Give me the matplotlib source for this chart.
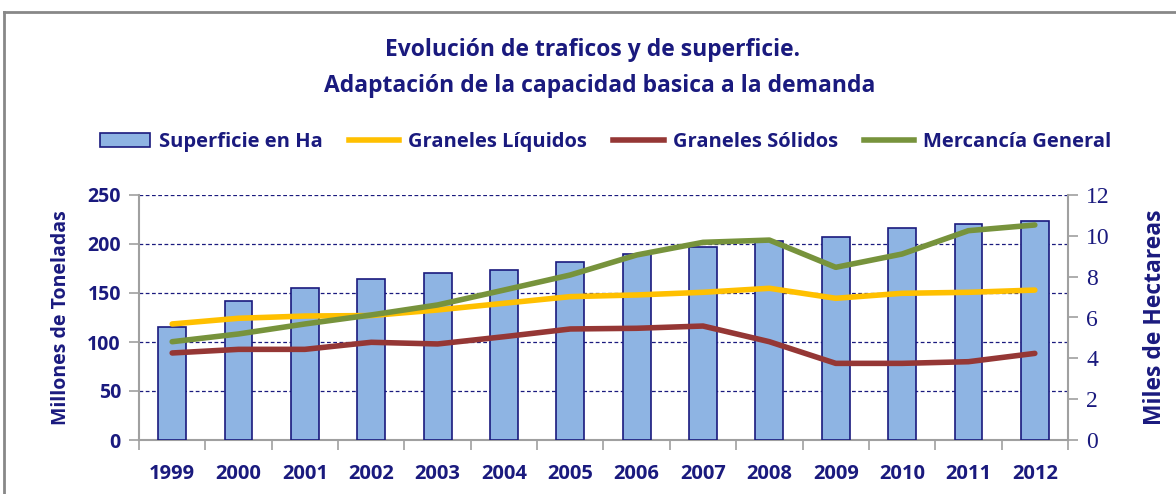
import numpy as np
import matplotlib.pyplot as plt
from matplotlib.lines import Line2D
from matplotlib.patches import Patch

plt.rcParams["font.family"] = ["Open Sans", "DejaVu Sans"]

years = ["1999", "2000", "2001", "2002", "2003", "2004", "2005",
         "2006", "2007", "2008", "2009", "2010", "2011", "2012"]
superficie = [5.53, 6.81, 7.44, 7.89, 8.18, 8.33, 8.72,
              9.11, 9.44, 9.75, 9.93, 10.37, 10.58, 10.74]
liquidos = [118.4, 124.2, 126.5, 127.0, 132.7, 139.5, 146.3,
            148.0, 150.7, 154.8, 144.6, 149.7, 150.7, 153.0]
solidos = [88.8, 92.5, 92.5, 99.7, 98.0, 105.4, 113.3,
           114.0, 116.3, 100.3, 78.2, 78.2, 79.9, 88.4]
mercancia = [100.3, 108.2, 118.4, 127.6, 137.8, 153.0, 168.4,
             188.8, 201.7, 204.0, 176.2, 189.8, 213.6, 219.4]

navy = "#1a1a7e"
gray = "#a0a0a0"
c_bar = "#8eb4e3"
c_liq = "#ffc000"
c_sol = "#953735"
c_mer = "#77933c"

fig = plt.figure(figsize=(11.76, 4.94), dpi=100)
pos = [139 / 1176, 1 - 440 / 494, (1068 - 139) / 1176, (440 - 195) / 494]

# bottom layer: tonnes axis + grid
ax = fig.add_axes(pos)
ax.set_zorder(0)
x = np.arange(len(years))
ax.set_xlim(-0.5, len(years) - 0.5)
ax.set_ylim(0, 250)
ax.set_yticks(range(0, 251, 50))
ax.grid(axis="y", linestyle=(0, (3, 2)), color=navy, linewidth=0.9)
ax.set_xticks(x)
ax.set_xticklabels(years, fontsize=14.5, fontweight="bold", color=navy)
ax.set_xticks(np.arange(-0.5, len(years), 1), minor=True)
ax.tick_params(axis="x", which="major", length=0, pad=17)
ax.tick_params(axis="x", which="minor", length=7, color=gray, width=1.2)
ax.tick_params(axis="y", length=7, color=gray, width=1.2, labelsize=14,
               labelcolor=navy, pad=6)
for t in ax.get_yticklabels():
    t.set_fontweight("bold")
ax.spines["top"].set_visible(False)
ax.spines["right"].set_visible(False)
for s in ["left", "bottom"]:
    ax.spines[s].set_color(gray)
    ax.spines[s].set_linewidth(1.5)
ax.set_ylabel("Millones de Toneladas", fontsize=14, fontweight="bold",
              color=navy, labelpad=12)

# middle layer: bars on hectares axis
ax2 = ax.twinx()
ax2.set_zorder(1)
ax2.patch.set_visible(False)
ax2.bar(x, superficie, width=0.42, color=c_bar, edgecolor=navy, linewidth=1.2)
ax2.set_ylim(0, 12)
ax2.set_yticks(range(0, 13, 2))
ax2.tick_params(axis="y", length=7, color=gray, width=1.2, pad=6)
for t in ax2.get_yticklabels():
    t.set_fontfamily("Liberation Serif")
    t.set_fontsize(17)
    t.set_color(navy)
for s in ["top", "left", "bottom"]:
    ax2.spines[s].set_visible(False)
ax2.spines["right"].set_color(gray)
ax2.spines["right"].set_linewidth(1.5)
ax2.set_ylabel("Miles de Hectareas", fontsize=16.5, fontweight="bold",
               color=navy, labelpad=24)

# top layer: lines
ax3 = fig.add_axes(pos, sharex=ax, sharey=ax)
ax3.set_zorder(2)
ax3.patch.set_visible(False)
ax3.axis("off")
ax3.plot(x, liquidos, color=c_liq, linewidth=4, solid_capstyle="round")
ax3.plot(x, solidos, color=c_sol, linewidth=4, solid_capstyle="round")
ax3.plot(x, mercancia, color=c_mer, linewidth=4, solid_capstyle="round")

fig.text(0.504, 1 - 50 / 494, "Evolución de traficos y de superficie.", ha="center",
         va="center", fontsize=16.5, fontweight="bold", color=navy)
fig.text(0.51, 1 - 86 / 494, "Adaptación de la capacidad basica a la demanda",
         ha="center", va="center", fontsize=16.5, fontweight="bold", color=navy)

handles = [
    Patch(facecolor=c_bar, edgecolor=navy, linewidth=1.2),
    Line2D([], [], color=c_liq, linewidth=4),
    Line2D([], [], color=c_sol, linewidth=4),
    Line2D([], [], color=c_mer, linewidth=4),
]
labels = ["Superficie en Ha", "Graneles Líquidos", "Graneles Sólidos",
          "Mercancía General"]
fig.legend(handles, labels, loc="center", bbox_to_anchor=(0.515, 1 - 142 / 494),
           ncol=4, frameon=False, handlelength=2.5, handleheight=0.7,
           columnspacing=1.3, handletextpad=0.45,
           prop={"size": 14.5, "weight": "bold"}, labelcolor=navy)

# chart frame (partially visible)
fig.add_artist(Line2D([4 / 1176, 4 / 1176], [0, 1 - 12 / 494], color="#888888",
                      linewidth=2, transform=fig.transFigure))
fig.add_artist(Line2D([4 / 1176, 1], [1 - 12 / 494, 1 - 12 / 494], color="#888888",
                      linewidth=2, transform=fig.transFigure))

fig.savefig("out.png", dpi=100)
